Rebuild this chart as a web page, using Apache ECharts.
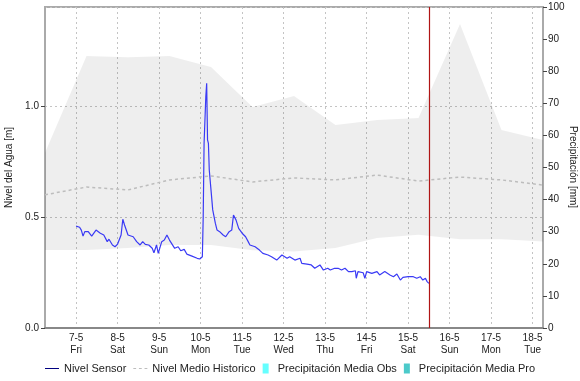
<!DOCTYPE html>
<html>
<head>
<meta charset="utf-8">
<script src="https://cdn.jsdelivr.net/npm/echarts@6/dist/echarts.min.js"></script>
<style>html,body{margin:0;padding:0;background:#fff;}#chart{width:580px;height:381px;}</style>
</head>
<body>
<div id="chart"></div>
<script>
// Daily historic band (06:00 each day)
const bandTimes = ['2021-05-06 06:00','2021-05-07 06:00','2021-05-08 06:00','2021-05-09 06:00','2021-05-10 06:00','2021-05-11 06:00','2021-05-12 06:00','2021-05-13 06:00','2021-05-14 06:00','2021-05-15 06:00','2021-05-16 06:00','2021-05-17 06:00','2021-05-18 06:00'];
const histUpper = [0.79,1.225,1.22,1.225,1.176,0.995,1.045,0.915,0.937,0.946,1.369,0.892,0.847];
const histLower = [0.351,0.351,0.36,0.374,0.374,0.35,0.345,0.36,0.405,0.42,0.40,0.40,0.39];
const histMean  = [0.60,0.635,0.622,0.667,0.685,0.658,0.676,0.667,0.689,0.662,0.68,0.667,0.644];

// Sensor readings: [hours since 2021-05-07 00:00, level m]
const sensorReadings = [
[0,0.459],[2,0.454],[3,0.441],[4,0.414],[5,0.434],[6,0.427],[7,0.434],[9,0.414],[11.5,0.441],[14,0.427],
[16,0.419],[18,0.389],[19,0.400],[21,0.374],[22.5,0.366],[24,0.378],[26,0.419],[27,0.49],[28,0.464],[30,0.419],
[31,0.419],[33,0.411],[35,0.389],[37,0.374],[38.5,0.389],[40,0.377],[42,0.374],[44,0.359],[45,0.339],[46.5,0.374],
[47.5,0.336],[49.5,0.389],[51,0.396],[52.5,0.419],[54,0.396],[57,0.359],[59,0.366],[60.5,0.348],[62.5,0.354],[64,0.333],
[67,0.324],[70,0.314],[71.5,0.311],[72,0.302],[73,0.321],[73.5,0.501],[74,0.832],[75,1.042],[75.5,1.102],[76,0.847],
[76.5,0.832],[77,0.712],[78,0.622],[79,0.532],[80.5,0.472],[81.5,0.441],[83,0.434],[85,0.419],[86.5,0.411],[88.5,0.434],
[90,0.441],[91,0.509],[92.5,0.486],[94,0.449],[96,0.427],[98,0.411],[99.5,0.389],[100.5,0.374],[103.5,0.366],[106,0.351],
[108,0.336],[111,0.329],[113,0.321],[116,0.306],[119,0.329],[122,0.314],[123.5,0.321],[126.5,0.306],[129.5,0.314],[130.5,0.291],
[133.5,0.288],[136,0.284],[138,0.269],[141,0.284],[143,0.261],[145.5,0.269],[147,0.261],[149.5,0.269],[151.5,0.269],[153.5,0.261],
[155.5,0.269],[157.5,0.254],[159.5,0.254],[161.5,0.258],[162,0.224],[163,0.254],[166,0.249],[167,0.224],[168,0.254],[171,0.246],
[174,0.254],[175.5,0.239],[178.5,0.254],[181.5,0.239],[183.5,0.231],[185.5,0.243],[187.5,0.216],[189,0.228],[192,0.231],[195,0.231],
[197,0.224],[199,0.231],[200.5,0.216],[202,0.224],[203,0.209],[204,0.201]
];
const precipObs = [];
const precipPro = [];
const nowTime = '2021-05-15 12:00';
const axisStart = '2021-05-06 06:00';
const axisEnd = '2021-05-18 06:00';
const dayNames = ['Sun','Mon','Tue','Wed','Thu','Fri','Sat'];

function parseT(s){ const [d,t]=s.split(' '); const [Y,M,D]=d.split('-').map(Number); const [h,m]=t.split(':').map(Number); return new Date(Y,M-1,D,h,m).getTime(); }
const base = new Date(2021,4,7,0,0).getTime();
const sensorData = sensorReadings.map(r => [base + r[0]*3600000, r[1]]);
const lowerData = bandTimes.map((t,i)=>[parseT(t), histLower[i]]);
const diffData = bandTimes.map((t,i)=>[parseT(t), +(histUpper[i]-histLower[i]).toFixed(4)]);
const meanData = bandTimes.map((t,i)=>[parseT(t), histMean[i]]);

const FONT = 'Liberation Sans, Arial, sans-serif';
const chart = echarts.init(document.getElementById('chart'), null, {renderer:'canvas'});
chart.setOption({
  animation:false,
  backgroundColor:'#fff',
  grid:{left:45,right:37,top:7,bottom:53,show:true,borderColor:'#aaa',borderWidth:2,backgroundColor:'transparent',
        containLabel:false,outerBoundsMode:'none'},
  graphic:[{type:'text',x:573,y:167,rotation:-Math.PI/2,silent:true,
    style:{text:'Precipitación [mm]',fontFamily:FONT,fontSize:10,fill:'#222',align:'center',verticalAlign:'middle'}}],
  legend:{
    bottom:2,left:'center',itemWidth:14,itemHeight:10,itemGap:7,
    textStyle:{fontFamily:FONT,fontSize:11,color:'#222'},
    data:[
      {name:'Nivel Sensor',icon:'path://M0,0h20v1.5h-20z',itemStyle:{color:'#000080'}},
      {name:'Nivel Medio Historico',icon:'path://M0,0h4v1.5h-4zM8,0h4v1.5h-4zM16,0h4v1.5h-4z',itemStyle:{color:'#bdbdbd'}},
      {name:'Precipitación Media Obs',icon:'path://M0,0h6v10h-6z',itemStyle:{color:'#66ffff'}},
      {name:'Precipitación Media Pro',icon:'path://M0,0h6v10h-6z',itemStyle:{color:'#4ccaca'}}
    ]
  },
  xAxis:{
    type:'time',min:parseT(axisStart),max:parseT(axisEnd),
    splitNumber:12,
    axisLine:{show:true,lineStyle:{color:'#888',width:2}},
    axisTick:{show:false},
    axisLabel:{fontFamily:FONT,fontSize:10,color:'#222',margin:4,lineHeight:12,
      formatter:function(v){const d=new Date(v);return d.getDate()+'-'+(d.getMonth()+1)+'\n'+dayNames[d.getDay()];}},
    splitLine:{show:true,lineStyle:{color:'#c4c4c4',type:[2,3],width:1}}
  },
  yAxis:[
    {type:'value',min:0,max:1.446,interval:0.5,position:'left',
     name:'Nivel del Agua [m]',nameLocation:'middle',nameGap:29,nameRotate:90,
     nameTextStyle:{fontFamily:FONT,fontSize:10,color:'#222'},
     axisLine:{show:true,lineStyle:{color:'#aaa',width:2}},
     axisTick:{show:true,length:4,lineStyle:{color:'#444'}},
     axisLabel:{fontFamily:FONT,fontSize:10,color:'#222',margin:6,showMaxLabel:false,formatter:v=>v.toFixed(1)},
     splitLine:{show:true,lineStyle:{color:'#c4c4c4',type:[2,3],width:1}}},
    {type:'value',min:0,max:100,interval:10,position:'right',
     axisLine:{show:true,lineStyle:{color:'#aaa',width:2}},
     axisTick:{show:true,length:4,lineStyle:{color:'#444'}},
     axisLabel:{fontFamily:FONT,fontSize:10,color:'#222',margin:5},
     splitLine:{show:false}}
  ],
  series:[
    {name:'bandLower',type:'line',stack:'band',data:lowerData,symbol:'none',lineStyle:{opacity:0},silent:true,z:1},
    {name:'bandRange',type:'line',stack:'band',data:diffData,symbol:'none',lineStyle:{opacity:0},
     areaStyle:{color:'rgba(0,0,0,0.065)',opacity:1},silent:true,z:1},
    {name:'Nivel Medio Historico',type:'line',data:meanData,symbol:'none',
     lineStyle:{color:'#bdbdbd',width:1.5,type:[3,3]},itemStyle:{color:'#bdbdbd'},z:2},
    {name:'Nivel Sensor',type:'line',data:sensorData,symbol:'none',
     lineStyle:{color:'#3a3af5',width:1.2},itemStyle:{color:'#3a3af5'},z:3,
     markLine:{silent:true,symbol:'none',label:{show:false},
       lineStyle:{color:'#b01515',width:1.2,type:'solid'},
       data:[{xAxis:parseT(nowTime)}]}},
    {name:'Precipitación Media Obs',type:'line',yAxisIndex:1,data:precipObs,symbol:'none',itemStyle:{color:'#66ffff'}},
    {name:'Precipitación Media Pro',type:'line',yAxisIndex:1,data:precipPro,symbol:'none',itemStyle:{color:'#4ccaca'}}
  ]
});
</script>
</body>
</html>
